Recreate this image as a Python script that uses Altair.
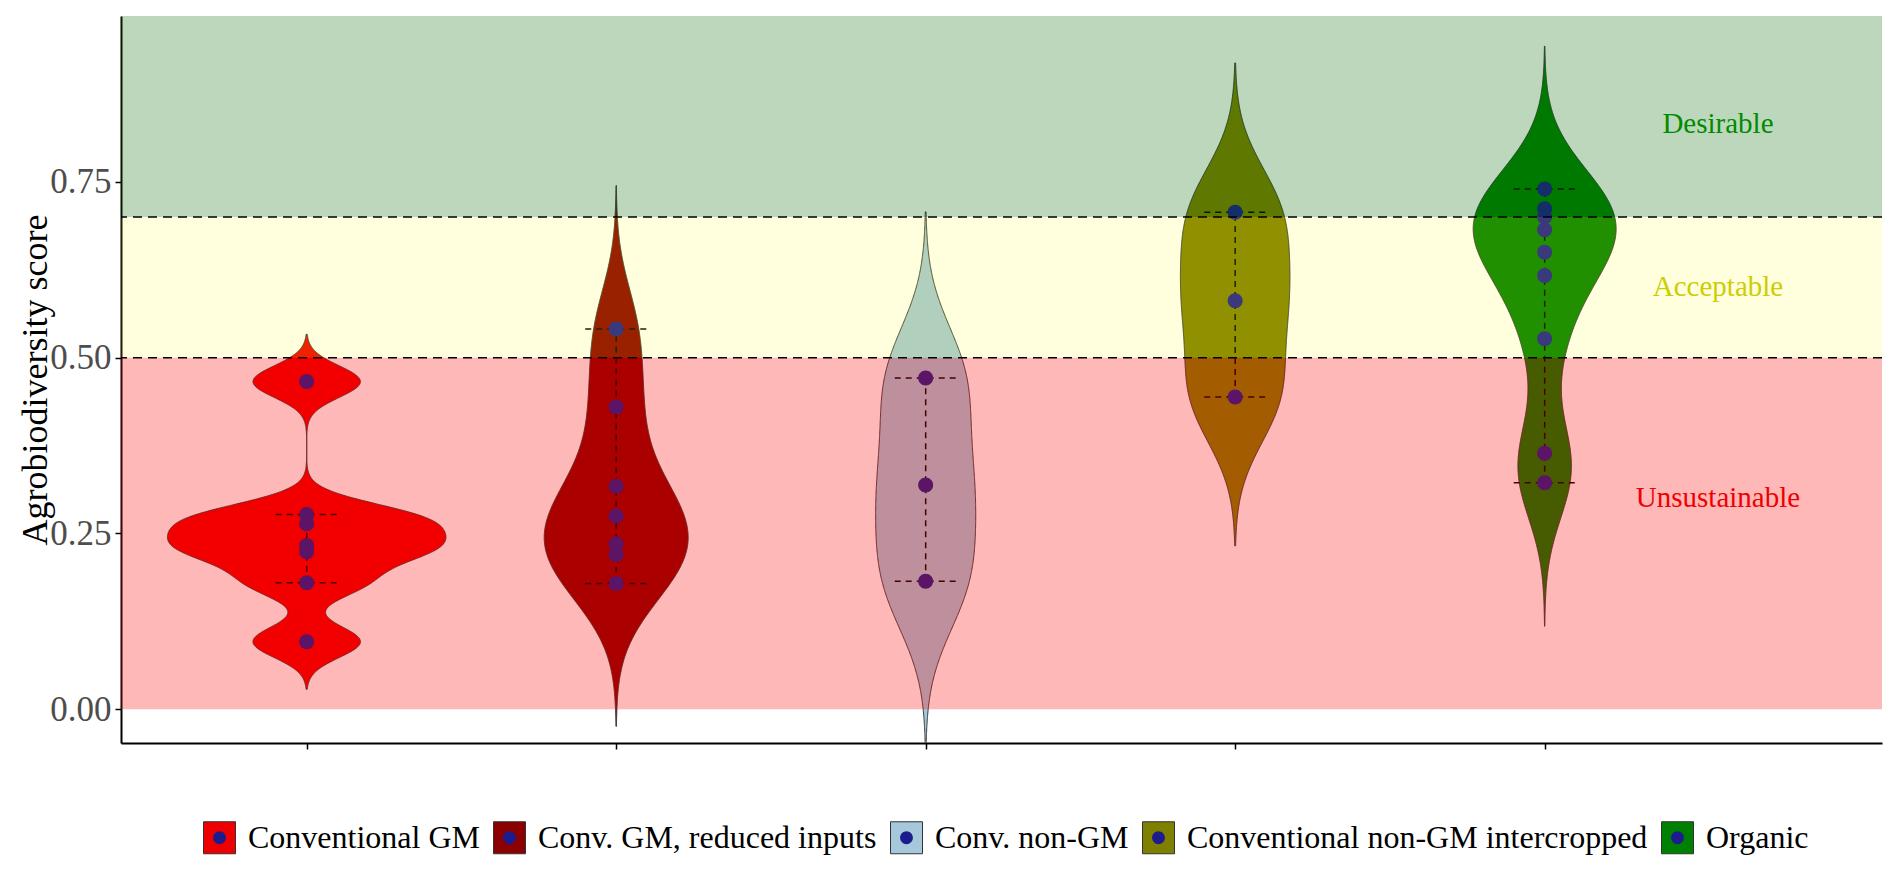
import altair as alt
import pandas as pd

FONT = "Liberation Serif"

# ---------------- data ----------------
groups = ["Conventional GM", "Conv. GM, reduced inputs", "Conv. non-GM",
          "Conventional non-GM intercropped", "Organic"]
group_pos = [1, 2, 3, 4, 5]
fill_colors = ["#EE0000", "#8B0000", "#A5C8DA", "#808000", "#008000"]

scores_conv_gm = [0.466, 0.277, 0.264, 0.233, 0.224, 0.180, 0.096]
scores_conv_gm_reduced = [0.541, 0.430, 0.317, 0.275, 0.235, 0.220, 0.179]
scores_conv_non_gm = [0.471, 0.319, 0.182]
scores_intercropped = [0.707, 0.581, 0.444]
scores_organic = [0.740, 0.712, 0.700, 0.682, 0.650, 0.617, 0.527, 0.364, 0.322]

# kernel bandwidth of each violin, read from the extent of its tails
violin_bandwidth = [0.0225, 0.068, 0.079, 0.0708, 0.068]

err_low = [0.180, 0.179, 0.182, 0.444, 0.322]
err_high = [0.277, 0.541, 0.471, 0.707, 0.740]

Y_MIN, Y_MAX = -0.048, 0.986
X_MIN, X_MAX = 0.4, 6.09
y_ticks = [0.0, 0.25, 0.5, 0.75]

band_low = [0.0, 0.5, 0.7]
band_high = [0.5, 0.7, Y_MAX]
band_colors = ["#FF0000", "#FFFF00", "#006400"]
band_opacity = [0.28, 0.13, 0.26]

thresholds = [0.5, 0.7]

zone_labels = ["Desirable", "Acceptable", "Unsustainable"]
zone_x = [5.56, 5.56, 5.56]
zone_y = [0.833, 0.600, 0.300]
zone_colors = ["#008B00", "#CDCD00", "#EE0000"]

# ---------------- tables ----------------
all_scores = [scores_conv_gm, scores_conv_gm_reduced, scores_conv_non_gm,
              scores_intercropped, scores_organic]
rows = []
for g, p, bw, vals in zip(groups, group_pos, violin_bandwidth, all_scores):
    for v in vals:
        rows.append({"group": g, "gi": p, "bw": bw, "value": v})
points_df = pd.DataFrame(rows)

err_df = pd.DataFrame({"group": groups, "gi": group_pos, "lo": err_low, "hi": err_high})
bands_df = pd.DataFrame({"lo": band_low, "hi": band_high, "col": band_colors,
                         "op": band_opacity, "x0": X_MIN, "x1": X_MAX})
thr_df = pd.DataFrame({"t": thresholds})
zone_df = pd.DataFrame({"label": zone_labels, "x": zone_x, "y": zone_y, "col": zone_colors})

# dot with an invisible diagonal so its bounds equal a full square symbol
CIRCLE = "M-1,-1L1,1M0,-0.4A0.4,0.4,0,1,1,0,0.4A0.4,0.4,0,1,1,0,-0.4Z"

# ---------------- scales / axes ----------------
W, H = 1761, 727
x_scale = alt.Scale(domain=[X_MIN, X_MAX], nice=False, zero=False)
y_scale = alt.Scale(domain=[Y_MIN, Y_MAX], nice=False, zero=False)

y_axis = alt.Axis(values=y_ticks, format=".2f", title="Agrobiodiversity score",
                  titleFont=FONT, titleFontSize=36, titleFontWeight="normal",
                  titleColor="black", titleX=-86, titleBaseline="middle",
                  labelFont=FONT, labelFontSize=35, labelColor="#4D4D4D",
                  labelPadding=4, tickSize=6, tickWidth=1.5, tickColor="black",
                  domainColor="black", domainWidth=2, grid=False)
x_axis = alt.Axis(values=group_pos, labels=False, title=None, tickSize=6,
                  tickWidth=1.5, tickColor="black", domainColor="black",
                  domainWidth=2, grid=False)

legend_common = dict(title=None, orient="none", legendX=82, legendY=805,
                     direction="horizontal", symbolSize=1024, labelFont=FONT,
                     labelFontSize=32, labelColor="black", labelLimit=1000,
                     labelOffset=12, columnPadding=11, padding=0,
                     symbolStrokeWidth=1)

# ---------------- violins (gaussian kernel, tails to 3 bandwidths, equal area) ----------------
violin = (
    alt.Chart(points_df)
    .transform_joinaggregate(vmin="min(value)", vmax="max(value)", groupby=["group"])
    .transform_calculate(z="datum.value/datum.bw",
                         zlo="datum.vmin/datum.bw - 3",
                         zhi="datum.vmax/datum.bw + 3")
    .transform_density("z", as_=["zz", "dz"], groupby=["group", "gi", "bw", "zlo", "zhi"],
                       bandwidth=1, extent=[-3, 26], steps=1800)
    .transform_filter("datum.zz >= datum.zlo && datum.zz <= datum.zhi")
    .transform_calculate(yv="datum.zz*datum.bw", d="datum.dz/datum.bw")
    .transform_joinaggregate(dmax="max(d)")
    .transform_calculate(xl="datum.gi - 0.45*datum.d/datum.dmax",
                         xr="datum.gi + 0.45*datum.d/datum.dmax")
    .mark_area(orient="horizontal", stroke="#333333", strokeWidth=1, clip=True)
    .encode(
        y=alt.Y("yv:Q", scale=y_scale, axis=y_axis),
        x=alt.X("xl:Q", scale=x_scale, axis=x_axis, stack=None),
        x2="xr:Q",
        fill=alt.Fill("group:N", sort=groups, scale=alt.Scale(range=fill_colors),
                      legend=alt.Legend(symbolType="square", symbolStrokeColor="#333333",
                                        zindex=0, **legend_common)),
        detail="group:N",
    )
)

# ---------------- error bars ----------------
err_v = alt.Chart(err_df).mark_rule(color="black", strokeWidth=1.5, strokeDash=[6, 5]).encode(
    x=alt.X("gi:Q", scale=x_scale, axis=x_axis),
    y=alt.Y("lo:Q", scale=y_scale, axis=y_axis),
    y2="hi:Q",
)
err_caps = (
    alt.Chart(err_df)
    .transform_fold(["lo", "hi"], as_=["end", "yc"])
    .transform_calculate(xa="datum.gi - 0.1", xb="datum.gi + 0.1")
    .mark_rule(color="black", strokeWidth=1.5, strokeDash=[6, 5])
    .encode(
        x=alt.X("xa:Q", scale=x_scale, axis=x_axis),
        x2="xb:Q",
        y=alt.Y("yc:Q", scale=y_scale, axis=y_axis),
    )
)

# ---------------- points (their legend puts the dot inside each square) ----------------
pts = (
    alt.Chart(points_df)
    .mark_point(filled=True, size=1406, opacity=1, strokeWidth=0, color="#1C1C8E")
    .encode(
        x=alt.X("gi:Q", scale=x_scale, axis=x_axis),
        y=alt.Y("value:Q", scale=y_scale, axis=y_axis),
        shape=alt.Shape("group:N", scale=alt.Scale(domain=groups, range=[CIRCLE] * 5),
                        legend=alt.Legend(symbolFillColor="#10108A",
                                          symbolStrokeColor="transparent",
                                          symbolOpacity=1, labelOpacity=0, zindex=2,
                                          **legend_common)),
    )
)

# ---------------- tinted zones ----------------
bands = alt.Chart(bands_df).mark_rect().encode(
    x=alt.X("x0:Q", scale=x_scale, axis=x_axis),
    x2="x1:Q",
    y=alt.Y("lo:Q", scale=y_scale, axis=y_axis),
    y2="hi:Q",
    color=alt.Color("col:N", scale=None),
    opacity=alt.Opacity("op:Q", scale=None),
)

thr = alt.Chart(thr_df).mark_rule(color="black", strokeWidth=1.5, strokeDash=[9, 6]).encode(
    y=alt.Y("t:Q", scale=y_scale, axis=y_axis),
)

txt = alt.Chart(zone_df).mark_text(font=FONT, fontSize=29, align="center", baseline="middle").encode(
    x=alt.X("x:Q", scale=x_scale, axis=x_axis),
    y=alt.Y("y:Q", scale=y_scale, axis=y_axis),
    text="label:N",
    color=alt.Color("col:N", scale=None),
)

chart = (
    alt.layer(violin, err_v, err_caps, pts, bands, thr, txt)
    .properties(width=W, height=H,
                padding={"left": 113, "top": 8, "right": 10, "bottom": 118},
                autosize=alt.AutoSizeParams(type="none"))
    .configure(font=FONT, background="white")
    .configure_view(stroke=None)
)

chart.save("out.html", embed_options={"renderer": "svg", "actions": False})
